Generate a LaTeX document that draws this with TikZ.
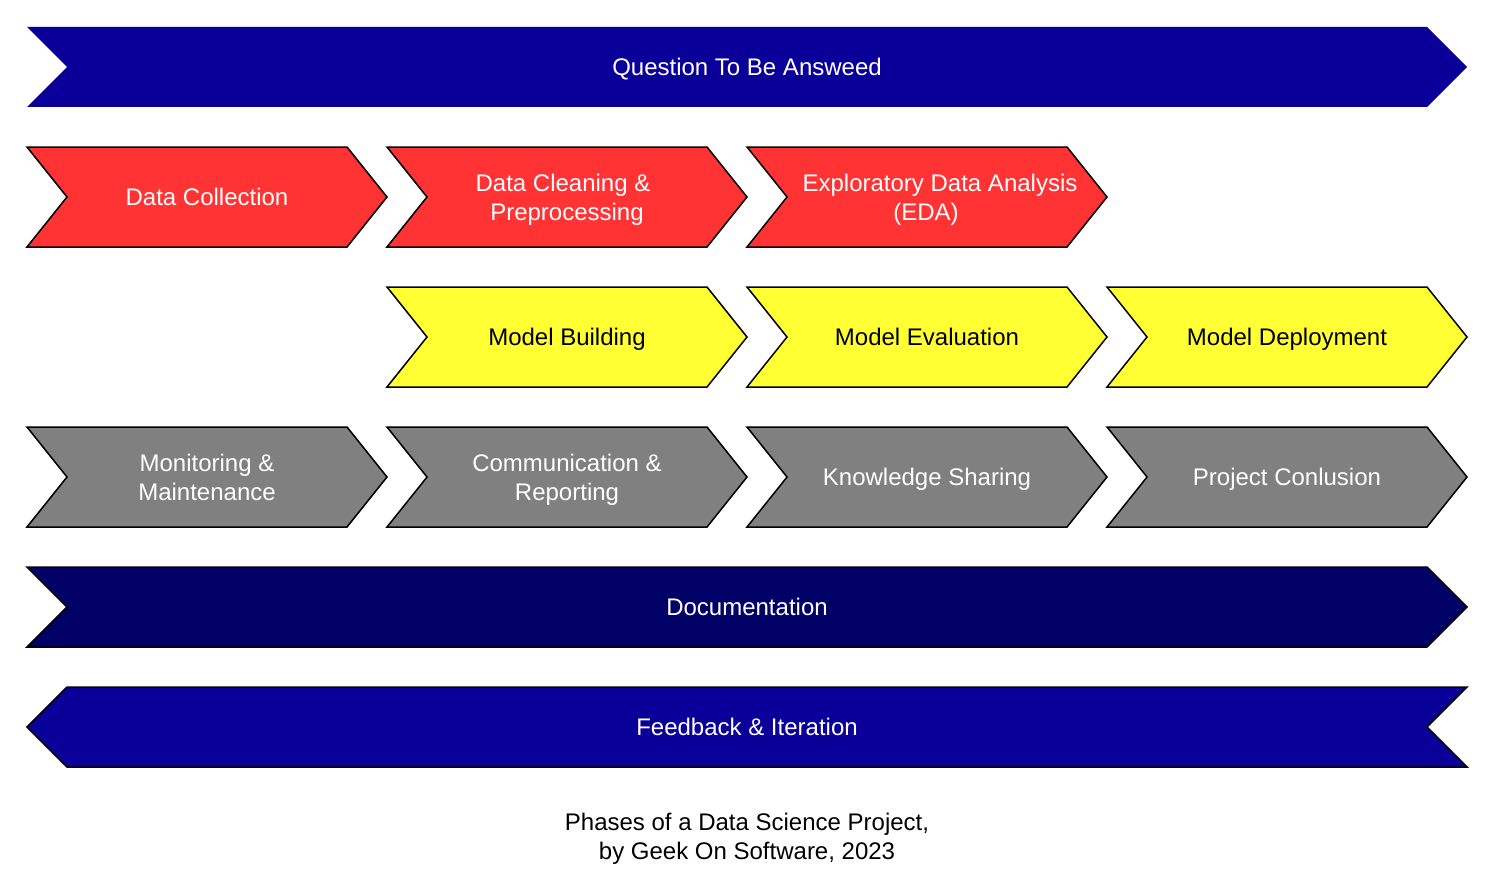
\documentclass[tikz,border=0pt]{standalone}
\usepackage{fontspec}
\setmainfont{Liberation Sans}

\definecolor{askblue}{HTML}{0A0099}
\definecolor{docnavy}{HTML}{000066}
\definecolor{phasered}{HTML}{FF3333}
\definecolor{phaseyellow}{HTML}{FFFF33}
\definecolor{phasegray}{HTML}{808080}

% chevron with a notch on the left and a point on the right
% #1 left x, #2 top y, #3 width, #4 height, #5 style, #6 name of centre
\newcommand\chevron[6]{%
  \path[#5] (#1,#2) -- ++(#3-40,0) -- ++(40,#4/2) -- ++(-40,#4/2)
     -- ++(-#3+40,0) -- ++(40,-#4/2) -- cycle;
  \coordinate (#6) at ({#1+#3/2},{#2+#4/2});}

\begin{document}
\begin{tikzpicture}[x=1pt,y=-1pt,
  edged/.style={draw=black,line width=1.5pt,line join=miter},
  lbl/.style={font=\fontsize{24}{29}\selectfont,inner sep=0pt,anchor=base},
  lightlbl/.style={lbl,text=white},
  darklbl/.style={lbl,text=black},
  one/.style={yshift=-8.6pt},
  upper/.style={yshift=5.9pt},
  lower/.style={yshift=-23.1pt}]
\useasboundingbox (0,0) rectangle (1498,880);

% banner on top
\chevron{27}{27}{1440}{80}{fill=askblue}{question}
\node[lightlbl] (tquestion) at ([one]question) {Question To Be Answeed};

% data phases
\chevron{27}{147}{360}{100}{edged,fill=phasered}{collect}
\chevron{387}{147}{360}{100}{edged,fill=phasered}{clean}
\chevron{747}{147}{360}{100}{edged,fill=phasered}{eda}
\node[lightlbl] (tcollect) at ([one]collect) {Data Collection};
\node[lightlbl] (tclean) at ([upper,xshift=-4pt]clean) {Data Cleaning \&};
\node[lightlbl] (tclean2) at ([lower]clean) {Preprocessing};
\node[lightlbl] (teda) at ([upper,xshift=13pt]eda) {Exploratory Data Analysis};
\node[lightlbl] (teda2) at ([lower,xshift=-1pt]eda) {(EDA)};

% model phases
\chevron{387}{287}{360}{100}{edged,fill=phaseyellow}{build}
\chevron{747}{287}{360}{100}{edged,fill=phaseyellow}{evaluate}
\chevron{1107}{287}{360}{100}{edged,fill=phaseyellow}{deploy}
\node[darklbl] (tbuild) at ([one]build) {Model Building};
\node[darklbl] (tevaluate) at ([one]evaluate) {Model Evaluation};
\node[darklbl] (tdeploy) at ([one]deploy) {Model Deployment};

% closing phases
\chevron{27}{427}{360}{100}{edged,fill=phasegray}{monitor}
\chevron{387}{427}{360}{100}{edged,fill=phasegray}{report}
\chevron{747}{427}{360}{100}{edged,fill=phasegray}{share}
\chevron{1107}{427}{360}{100}{edged,fill=phasegray}{conclude}
\node[lightlbl] (tmonitor) at ([upper]monitor) {Monitoring \&};
\node[lightlbl] (tmonitor2) at ([lower]monitor) {Maintenance};
\node[lightlbl] (treport) at ([upper]report) {Communication \&};
\node[lightlbl] (treport2) at ([lower]report) {Reporting};
\node[lightlbl] (tshare) at ([one]share) {Knowledge Sharing};
\node[lightlbl] (tconclude) at ([one]conclude) {Project Conlusion};

% documentation band
\chevron{27}{567}{1440}{80}{edged,fill=docnavy}{docs}
\node[lightlbl] (tdocs) at ([one]docs) {Documentation};

% feedback band, pointing back to the left
\path[edged,fill=askblue] (27,727) -- (67,687) -- (1467,687) -- (1427,727)
   -- (1467,767) -- (67,767) -- cycle;
\coordinate (feedback) at (747,727);
\node[lightlbl] (tfeedback) at ([one]feedback) {Feedback \& Iteration};

% caption
\coordinate (captionmid) at (747,836.5);
\node[darklbl] (caption) at ([upper]captionmid) {Phases of a Data Science Project,};
\node[darklbl] (caption2) at ([lower]captionmid) {by Geek On Software, 2023};
\end{tikzpicture}
\end{document}
